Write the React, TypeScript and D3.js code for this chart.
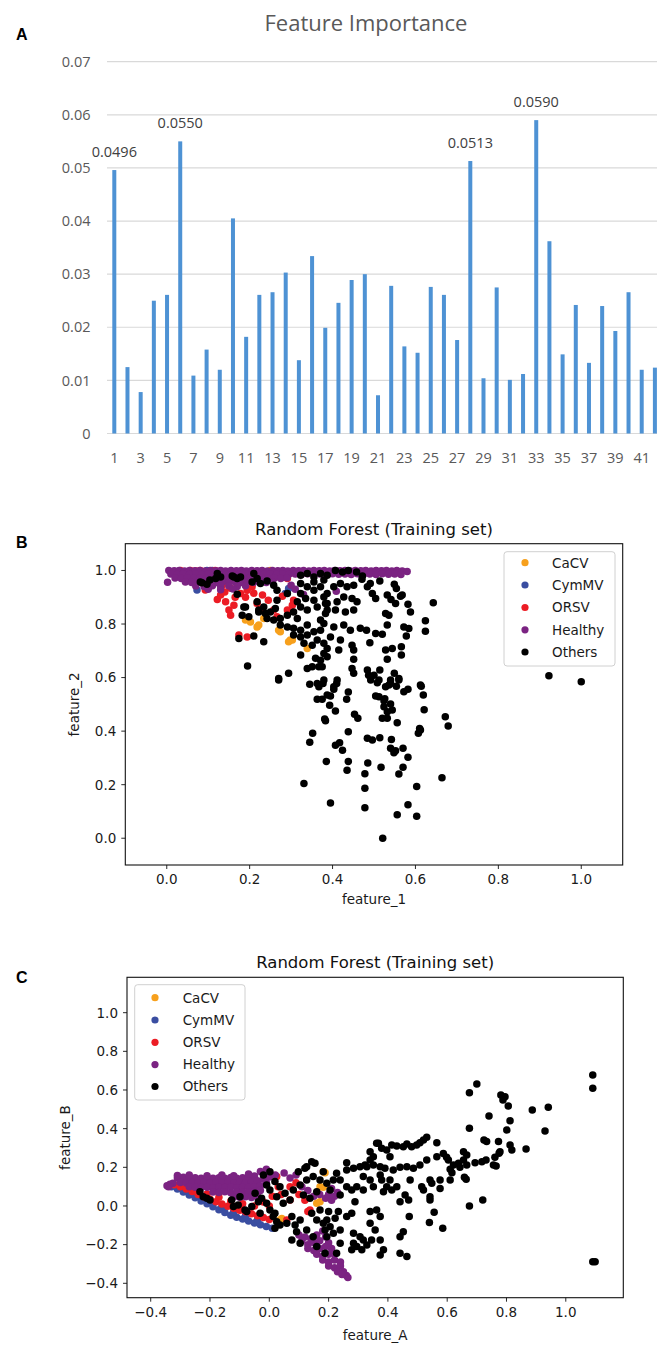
import React from 'react';
import * as d3 from 'd3';

// ---- Panel A: feature importance ----
const featureIds = [1, 2, 3, 4, 5, 6, 7, 8, 9, 10, 11, 12, 13, 14, 15, 16, 17, 18, 19, 20, 21,
  22, 23, 24, 25, 26, 27, 28, 29, 30, 31, 32, 33, 34, 35, 36, 37, 38, 39, 40, 41, 42];
const importance = [0.0496, 0.0125, 0.0078, 0.0250, 0.0261, 0.0550, 0.0109, 0.0158, 0.0120, 0.0405,
  0.0182, 0.0261, 0.0266, 0.0303, 0.0138, 0.0334, 0.0199, 0.0246, 0.0289, 0.0300,
  0.0072, 0.0278, 0.0164, 0.0152, 0.0276, 0.0261, 0.0176, 0.0513, 0.0104, 0.0275,
  0.0101, 0.0112, 0.0590, 0.0362, 0.0149, 0.0242, 0.0133, 0.0240, 0.0193, 0.0266,
  0.0120, 0.0124];
const labelledIds = [1, 6, 28, 33];
const importanceTicks = [0, 0.01, 0.02, 0.03, 0.04, 0.05, 0.06, 0.07];
const featureTickIds = [1, 3, 5, 7, 9, 11, 13, 15, 17, 19, 21, 23, 25, 27, 29, 31, 33, 35, 37, 39, 41];

// ---- classes ----
const classNames = ['CaCV', 'CymMV', 'ORSV', 'Healthy', 'Others'];
const classColors = ['#f7a01c', '#3a4ea1', '#ec1c24', '#7b2382', '#000000'];

// ---- Panel B: feature_1 / feature_2 ----
const bCaCV = [[0.202, 0.808], [0.222, 0.796], [0.234, 0.821], [0.270, 0.777], [0.294, 0.734], [0.303, 0.740],
  [0.339, 0.709], [0.310, 0.989], [0.190, 0.815], [0.218, 0.789], [0.274, 0.771], [0.298, 0.740], [0.250, 1.0], [0.29, 0.995]];
const bCymMV = [[0.073, 0.927], [0.097, 1.0], [0.110, 1.0], [0.234, 0.989], [0.250, 0.982], [0.286, 0.914],
  [0.294, 0.933], [0.283, 0.975], [0.105, 0.998], [0.12, 0.995]];
const bORSV = [[0.033, 1.0], [0.057, 1.0], [0.081, 1.0], [0.117, 1.0], [0.178, 0.982], [0.198, 0.989], [0.122, 0.892],
  [0.142, 0.883], [0.150, 0.852], [0.154, 0.833], [0.162, 0.870], [0.178, 0.914], [0.194, 0.926], [0.206, 0.939],
  [0.218, 0.877], [0.226, 0.852], [0.258, 0.852], [0.266, 0.827], [0.291, 0.852], [0.303, 0.870], [0.306, 0.889],
  [0.174, 0.759], [0.194, 0.752], [0.130, 0.908], [0.154, 0.934], [0.093, 0.927], [0.134, 0.945], [0.231, 0.908],
  [0.245, 0.889], [0.279, 0.904], [0.291, 0.970], [0.045, 0.995], [0.07, 0.998], [0.14, 0.92], [0.165, 0.90],
  [0.19, 0.90], [0.21, 0.915]];
const bHealthy = [
  [0.005, 1.0], [0.018, 0.999], [0.03, 1.0], [0.043, 0.998], [0.055, 1.0], [0.068, 0.999], [0.08, 1.0], [0.093, 0.998],
  [0.105, 1.0], [0.118, 0.999], [0.13, 1.0], [0.142, 0.998], [0.155, 1.0], [0.168, 0.999], [0.18, 1.0], [0.192, 0.998],
  [0.205, 1.0], [0.218, 0.999], [0.23, 1.0], [0.243, 0.998], [0.255, 1.0], [0.268, 0.999], [0.28, 1.0], [0.292, 0.998],
  [0.305, 1.0], [0.318, 0.999], [0.33, 1.0], [0.343, 0.998], [0.355, 1.0], [0.368, 0.999], [0.38, 1.0], [0.393, 0.998],
  [0.405, 1.0], [0.418, 0.999], [0.43, 1.0], [0.443, 0.998], [0.455, 1.0], [0.468, 0.999], [0.48, 1.0], [0.493, 0.998],
  [0.505, 1.0], [0.518, 0.999], [0.53, 1.0], [0.543, 0.998], [0.555, 1.0], [0.568, 0.998], [0.58, 0.996],
  [0.01, 0.987], [0.025, 0.985], [0.04, 0.988], [0.055, 0.986], [0.07, 0.987], [0.085, 0.985], [0.1, 0.988],
  [0.115, 0.986], [0.13, 0.987], [0.145, 0.985], [0.16, 0.988], [0.175, 0.986], [0.19, 0.987], [0.205, 0.985],
  [0.22, 0.988], [0.235, 0.986], [0.25, 0.987], [0.265, 0.985], [0.28, 0.988], [0.295, 0.986], [0.31, 0.987],
  [0.325, 0.985], [0.34, 0.988], [0.355, 0.986], [0.37, 0.987], [0.385, 0.985], [0.40, 0.988], [0.415, 0.986],
  [0.43, 0.987], [0.445, 0.985], [0.46, 0.988], [0.475, 0.986], [0.49, 0.987], [0.505, 0.985], [0.52, 0.988],
  [0.535, 0.986], [0.55, 0.987], [0.565, 0.985],
  [0.02, 0.972], [0.035, 0.970], [0.05, 0.973], [0.065, 0.971], [0.08, 0.972], [0.095, 0.970], [0.11, 0.973],
  [0.125, 0.971], [0.14, 0.972], [0.155, 0.970], [0.17, 0.973], [0.185, 0.971], [0.2, 0.972], [0.215, 0.970],
  [0.23, 0.973], [0.245, 0.971], [0.26, 0.972], [0.275, 0.970], [0.29, 0.973],
  [0.045, 0.957], [0.06, 0.955], [0.075, 0.958], [0.09, 0.956], [0.105, 0.957], [0.12, 0.955], [0.135, 0.958],
  [0.15, 0.956], [0.165, 0.957], [0.18, 0.955], [0.195, 0.958], [0.21, 0.956], [0.225, 0.957], [0.24, 0.955], [0.255, 0.958],
  [0.07, 0.942], [0.09, 0.940], [0.11, 0.943], [0.13, 0.941], [0.15, 0.942], [0.17, 0.940], [0.19, 0.943],
  [0.10, 0.930], [0.13, 0.928], [0.16, 0.931],
  [0.002, 0.956], [0.409, 0.922], [0.31, 0.93], [0.33, 0.91], [0.30, 0.945]];
const bOthers = [
  [0.270, 0.591], [0.345, 0.575], [0.367, 0.566], [0.377, 0.578], [0.410, 0.578], [0.403, 0.556], [0.387, 0.535], [0.395, 0.531],
  [0.363, 0.519], [0.375, 0.519], [0.393, 0.497], [0.438, 0.546], [0.434, 0.519], [0.407, 0.475], [0.381, 0.445], [0.383, 0.439],
  [0.453, 0.463], [0.461, 0.448], [0.352, 0.392], [0.345, 0.358], [0.438, 0.398], [0.407, 0.347], [0.417, 0.357], [0.424, 0.329],
  [0.385, 0.287], [0.438, 0.287], [0.435, 0.254], [0.331, 0.204], [0.395, 0.132], [0.484, 0.373], [0.496, 0.367], [0.514, 0.375],
  [0.485, 0.281], [0.478, 0.241], [0.478, 0.187], [0.478, 0.114], [0.517, 0.265], [0.521, 0.000], [0.492, 0.591], [0.508, 0.581],
  [0.528, 0.566], [0.540, 0.578], [0.554, 0.568], [0.560, 0.591], [0.504, 0.531], [0.512, 0.528], [0.524, 0.513], [0.540, 0.501],
  [0.544, 0.479], [0.524, 0.491], [0.532, 0.472], [0.520, 0.448], [0.532, 0.448], [0.556, 0.431], [0.572, 0.547], [0.582, 0.556],
  [0.614, 0.568], [0.619, 0.535], [0.621, 0.480], [0.610, 0.410], [0.607, 0.392], [0.612, 0.404], [0.672, 0.454], [0.679, 0.419],
  [0.542, 0.369], [0.540, 0.336], [0.548, 0.319], [0.552, 0.327], [0.570, 0.336], [0.582, 0.302], [0.570, 0.265], [0.560, 0.240],
  [0.664, 0.226], [0.603, 0.193], [0.582, 0.125], [0.556, 0.088], [0.603, 0.082], [0.922, 0.607], [1.000, 0.584],
  [0.471, 0.967], [0.491, 0.951], [0.484, 0.939], [0.514, 0.961], [0.549, 0.949], [0.554, 0.933], [0.568, 0.908], [0.564, 0.904],
  [0.496, 0.914], [0.504, 0.895], [0.532, 0.908], [0.541, 0.892], [0.552, 0.877], [0.582, 0.874], [0.588, 0.845], [0.643, 0.879],
  [0.528, 0.839], [0.536, 0.833], [0.624, 0.812], [0.624, 0.773], [0.572, 0.789], [0.584, 0.783], [0.578, 0.755], [0.532, 0.796],
  [0.467, 0.784], [0.482, 0.777], [0.504, 0.765], [0.520, 0.762], [0.490, 0.730], [0.544, 0.709], [0.528, 0.703], [0.532, 0.668],
  [0.566, 0.684], [0.451, 0.703], [0.451, 0.668], [0.484, 0.628], [0.500, 0.609], [0.514, 0.628], [0.447, 0.634], [0.451, 0.616],
  [0.540, 0.591], [0.560, 0.597], [0.612, 0.572], [0.379, 0.964], [0.371, 0.939], [0.387, 0.914], [0.403, 0.939], [0.419, 0.951],
  [0.435, 0.939], [0.451, 0.945], [0.387, 0.877], [0.411, 0.883], [0.427, 0.901], [0.447, 0.895], [0.459, 0.883], [0.383, 0.839],
  [0.407, 0.852], [0.431, 0.845], [0.451, 0.852], [0.379, 0.802], [0.403, 0.789], [0.427, 0.796], [0.443, 0.777], [0.395, 0.752],
  [0.419, 0.740], [0.447, 0.721], [0.387, 0.709], [0.415, 0.703], [0.387, 0.678], [0.371, 0.665], [0.375, 0.640], [0.411, 0.591],
  [0.403, 0.566], [0.122, 0.989], [0.118, 0.970], [0.085, 0.954], [0.097, 0.949], [0.104, 0.964], [0.158, 0.979], [0.170, 0.970],
  [0.178, 0.976], [0.170, 0.911], [0.210, 0.989], [0.218, 0.970], [0.206, 0.957], [0.226, 0.951], [0.242, 0.961], [0.258, 0.945],
  [0.266, 0.926], [0.218, 0.883], [0.234, 0.864], [0.222, 0.845], [0.238, 0.839], [0.250, 0.845], [0.262, 0.858], [0.190, 0.864],
  [0.182, 0.833], [0.242, 0.821], [0.258, 0.815], [0.274, 0.821], [0.291, 0.833], [0.306, 0.845], [0.315, 0.821], [0.274, 0.796],
  [0.291, 0.789], [0.306, 0.784], [0.323, 0.777], [0.339, 0.796], [0.323, 0.982], [0.339, 0.989], [0.355, 0.976], [0.371, 0.989],
  [0.387, 0.982], [0.323, 0.951], [0.339, 0.939], [0.355, 0.957], [0.335, 0.895], [0.355, 0.889], [0.379, 0.901], [0.383, 0.877],
  [0.363, 0.864], [0.339, 0.852], [0.323, 0.864], [0.315, 0.883], [0.306, 0.759], [0.323, 0.752], [0.339, 0.759], [0.355, 0.771],
  [0.371, 0.777], [0.331, 0.728], [0.351, 0.721], [0.363, 0.740], [0.379, 0.728], [0.174, 0.746], [0.210, 0.755], [0.234, 0.734],
  [0.195, 0.643], [0.270, 0.597], [0.294, 0.616], [0.323, 0.684], [0.359, 0.672], [0.379, 0.690], [0.339, 0.634], [0.351, 0.640],
  [0.367, 0.640], [0.363, 0.578], [0.379, 0.591], [0.081, 0.957], [0.130, 0.976], [0.162, 0.976], [0.186, 0.864], [0.198, 0.827],
  [0.222, 0.852], [0.407, 1.0], [0.424, 0.994], [0.438, 1.0], [0.458, 0.994], [0.472, 0.979], [0.512, 0.591], [0.487, 0.609],
  [0.536, 0.572], [0.526, 0.521], [0.549, 0.616], [0.566, 0.715],
  [0.291, 0.914], [0.266, 0.889], [0.323, 0.914], [0.355, 0.926], [0.371, 0.815], [0.387, 0.852]];

// ---- Panel C: feature_A / feature_B ----
const cCaCV = [[0.036, -0.072], [0.042, -0.065], [0.160, 0.014], [0.171, 0.100], [0.182, 0.177], [0.188, 0.172],
  [0.182, 0.097], [0.171, 0.022]];
const cCymMV = [[-0.33, 0.10], [-0.31, 0.088], [-0.29, 0.072], [-0.27, 0.057], [-0.25, 0.042], [-0.23, 0.026], [-0.21, 0.011],
  [-0.19, -0.004], [-0.17, -0.019], [-0.15, -0.034], [-0.13, -0.048], [-0.11, -0.058], [-0.09, -0.068], [-0.07, -0.078],
  [-0.05, -0.088], [-0.03, -0.097], [-0.01, -0.106], [0.01, -0.115], [-0.28, 0.075], [-0.24, 0.05], [-0.20, 0.022],
  [-0.16, -0.005], [-0.12, -0.03], [-0.08, -0.05], [-0.04, -0.07]];
const cORSV = [[-0.32, 0.11], [-0.30, 0.1], [-0.28, 0.088], [-0.26, 0.075], [-0.24, 0.06], [-0.22, 0.048], [-0.20, 0.035],
  [-0.18, 0.022], [-0.16, 0.01], [-0.14, -0.002], [-0.12, -0.012], [-0.10, -0.022], [-0.08, -0.03], [-0.06, -0.04],
  [-0.04, -0.05], [-0.02, -0.06], [0.0, -0.07], [-0.25, 0.08], [-0.21, 0.062], [-0.17, 0.045], [-0.13, 0.025],
  [-0.09, 0.012], [-0.05, 0.0], [-0.02, 0.02], [0.0, 0.0], [0.025, 0.152], [0.07, 0.10], [0.07, 0.031], [0.137, -0.021],
  [0.13, -0.029], [0.059, -0.072], [0.10, 0.06], [0.12, 0.03], [0.04, 0.06], [0.03, 0.10], [0.01, 0.05], [0.09, 0.12]];
const cHealthy = [
  [-0.31, 0.145], [-0.29, 0.148], [-0.27, 0.143], [-0.25, 0.146], [-0.23, 0.144], [-0.21, 0.147], [-0.19, 0.143],
  [-0.17, 0.146], [-0.15, 0.144], [-0.13, 0.147], [-0.11, 0.143], [-0.09, 0.146], [-0.07, 0.15], [-0.05, 0.155],
  [-0.325, 0.118], [-0.30, 0.121], [-0.28, 0.119], [-0.26, 0.122], [-0.24, 0.12], [-0.22, 0.123], [-0.20, 0.119],
  [-0.18, 0.122], [-0.16, 0.12], [-0.14, 0.123], [-0.12, 0.119], [-0.10, 0.122], [-0.08, 0.12], [-0.06, 0.124],
  [-0.04, 0.13], [-0.02, 0.14],
  [-0.27, 0.1], [-0.25, 0.097], [-0.23, 0.095], [-0.21, 0.097], [-0.19, 0.094], [-0.17, 0.097], [-0.15, 0.095],
  [-0.13, 0.098], [-0.11, 0.094], [-0.09, 0.097], [-0.07, 0.095], [-0.05, 0.1], [-0.03, 0.105], [-0.01, 0.12],
  [-0.19, 0.072], [-0.17, 0.07], [-0.15, 0.073], [-0.13, 0.069], [-0.11, 0.072], [-0.09, 0.07], [-0.07, 0.073],
  [-0.05, 0.075], [-0.03, 0.08], [-0.12, 0.047], [-0.10, 0.045], [-0.08, 0.048], [-0.06, 0.044], [-0.04, 0.05],
  [-0.345, 0.105], [-0.335, 0.112], [-0.34, 0.1],
  [-0.31, 0.158], [-0.27, 0.16], [-0.21, 0.157], [-0.16, 0.16], [-0.12, 0.156], [-0.07, 0.165], [-0.03, 0.178], [-0.01, 0.19],
  [0.0, 0.15], [0.02, 0.16], [0.05, 0.17], [0.07, 0.145], [0.09, 0.16], [0.11, 0.1], [0.13, 0.08], [0.15, 0.05], [0.17, 0.06],
  [0.19, 0.04], [0.21, 0.03], [0.23, 0.07], [0.21, 0.09], [0.2, 0.06], [0.22, 0.05],
  [0.10, -0.15], [0.12, -0.16], [0.14, -0.17], [0.16, -0.15], [0.18, -0.13], [0.19, -0.16],
  [0.11, -0.18], [0.13, -0.20], [0.15, -0.19], [0.17, -0.18], [0.20, -0.19],
  [0.13, -0.22], [0.15, -0.23], [0.17, -0.22], [0.19, -0.21], [0.21, -0.22],
  [0.16, -0.25], [0.18, -0.26], [0.20, -0.25], [0.22, -0.25], [0.18, -0.28], [0.20, -0.29], [0.22, -0.28], [0.24, -0.29],
  [0.20, -0.31], [0.22, -0.32], [0.24, -0.31], [0.23, -0.34], [0.25, -0.34], [0.26, -0.36], [0.265, -0.37], [0.245, -0.355]];
const cOthers = [
  [0.700, 0.631], [0.675, 0.586], [0.781, 0.574], [0.795, 0.565], [0.788, 0.548], [0.806, 0.517], [0.741, 0.466], [0.812, 0.441],
  [0.675, 0.402], [0.801, 0.393], [0.724, 0.341], [0.733, 0.333], [0.773, 0.333], [0.812, 0.316], [0.818, 0.290], [0.778, 0.281],
  [0.761, 0.252], [0.731, 0.238], [0.717, 0.229], [0.694, 0.224], [0.756, 0.212], [0.765, 0.207], [0.675, 0.000], [0.720, 0.031],
  [0.655, 0.281], [0.666, 0.264], [0.655, 0.238], [0.638, 0.221], [0.643, 0.200], [0.666, 0.212], [0.658, 0.148], [0.664, 0.138],
  [0.621, 0.212], [0.610, 0.190], [0.616, 0.172], [0.587, 0.272], [0.598, 0.252], [0.604, 0.238], [0.565, 0.327], [0.531, 0.355],
  [0.520, 0.341], [0.508, 0.327], [0.497, 0.316], [0.480, 0.307], [0.464, 0.321], [0.452, 0.307], [0.430, 0.310], [0.413, 0.316],
  [0.396, 0.290], [0.379, 0.298], [0.368, 0.324], [0.565, 0.255], [0.531, 0.238], [0.508, 0.212], [0.486, 0.195], [0.464, 0.203],
  [0.441, 0.200], [0.418, 0.186], [0.390, 0.195], [0.374, 0.203], [0.351, 0.212], [0.340, 0.238], [0.329, 0.203], [0.542, 0.134],
  [0.514, 0.100], [0.548, 0.117], [0.520, 0.083], [0.542, 0.048], [0.542, 0.031], [0.556, -0.033], [0.540, -0.086], [0.585, -0.115],
  [0.576, 0.134], [0.610, 0.134], [0.576, 0.091], [0.472, -0.055], [0.452, -0.133], [0.441, -0.159], [0.441, -0.245], [0.464, -0.262],
  [0.458, 0.057], [0.470, 0.031], [0.441, 0.022], [0.407, 0.134], [0.430, 0.100], [0.413, 0.083], [0.396, 0.100], [0.385, 0.074],
  [0.374, 0.160], [0.379, 0.134], [0.340, 0.134], [0.317, 0.152], [0.351, 0.100], [0.317, 0.083], [0.295, 0.100], [0.278, 0.083],
  [0.261, 0.100], [0.239, 0.134], [0.227, 0.169], [0.261, 0.186], [0.284, 0.195], [0.306, 0.203], [0.323, 0.212], [0.216, 0.134],
  [0.205, 0.083], [0.194, 0.117], [0.171, 0.134], [0.261, 0.224], [0.362, 0.324], [0.340, 0.281], [0.351, 0.255], [0.407, 0.255],
  [0.475, 0.134], [0.289, 0.022], [0.239, 0.057], [0.200, -0.029], [0.233, -0.029], [0.222, -0.064], [0.205, -0.107], [0.239, -0.124],
  [0.261, -0.055], [0.278, -0.038], [0.340, -0.029], [0.362, -0.021], [0.374, -0.055], [0.340, -0.090], [0.357, -0.124], [0.284, -0.141],
  [0.306, -0.159], [0.317, -0.176], [0.284, -0.193], [0.295, -0.210], [0.278, -0.227], [0.312, -0.227], [0.329, -0.202], [0.345, -0.176],
  [0.374, -0.176], [0.385, -0.227], [0.374, -0.253], [0.216, -0.141], [0.239, -0.193], [0.194, -0.159], [0.227, -0.245], [0.182, -0.090],
  [0.188, -0.124], [1.091, 0.677], [1.091, 0.609], [1.091, -0.288], [1.099, -0.288], [0.941, 0.511], [0.930, 0.388], [0.887, 0.497],
  [0.866, 0.295], [0.775, 0.273],
  [-0.234, 0.074], [-0.211, 0.040], [-0.200, 0.031], [-0.223, 0.048], [-0.127, 0.031], [-0.099, 0.048], [-0.105, 0.005], [-0.082, -0.021],
  [-0.059, -0.003], [-0.037, 0.022], [-0.048, 0.066], [-0.026, 0.040], [-0.009, 0.014], [-0.031, -0.038], [0.002, -0.021], [0.019, -0.038],
  [-0.009, 0.109], [0.002, 0.083], [0.019, 0.126], [0.036, 0.100], [0.053, 0.066], [0.070, 0.031], [0.025, 0.048], [0.047, 0.014],
  [-0.020, 0.160], [0.002, 0.177], [0.081, 0.083], [0.104, 0.109], [0.126, 0.134], [0.148, 0.152], [0.115, 0.057], [0.137, 0.040],
  [0.160, 0.074], [0.098, 0.177], [0.120, 0.195], [0.154, 0.221], [0.182, 0.177], [0.013, -0.055], [0.025, -0.081], [0.019, -0.115],
  [0.036, -0.098], [0.059, -0.090], [0.076, -0.055], [0.087, -0.098], [0.104, -0.072], [0.092, -0.133], [0.076, -0.176], [0.104, -0.193],
  [0.126, -0.124], [0.148, -0.159], [0.160, -0.210], [0.188, -0.245], [0.171, -0.021], [0.194, -0.072], [0.160, -0.072], [0.143, -0.038],
  [-0.121, -0.003], [-0.076, -0.029], [0.126, 0.203], [0.143, 0.229]];

const panelBTicks = [0, 0.2, 0.4, 0.6, 0.8, 1.0];
const panelCTicks = [-0.4, -0.2, 0, 0.2, 0.4, 0.6, 0.8, 1.0];

const MPL_FONT = '"DejaVu Sans", sans-serif';
const XL_FONT = '"Open Sans", "Noto Sans", sans-serif';

function FeatureImportance() {
  const x = d3.scaleLinear().domain([1, 42]).range([114.3, 654.9]);
  const y = d3.scaleLinear().domain([0, 0.07]).range([433.5, 61.7]);
  const fmt = d3.format('.4f');
  const barW = 4;
  return (
    <g>
      <text x={16} y={40} fontFamily='"Liberation Sans", Arial' fontWeight="bold" fontSize={16}>A</text>
      <text x={366} y={30.5} textAnchor="middle" fontFamily={XL_FONT} fontSize={22} fill="#595959">Feature Importance</text>
      {importanceTicks.map((t) => (
        <g key={t}>
          <line x1={107} x2={662} y1={y(t)} y2={y(t)} stroke="#d9d9d9" strokeWidth={1.2} />
          <text x={90.5} y={y(t)} dy="0.36em" textAnchor="end" fontFamily={XL_FONT} fontSize={14.5} fill="#595959">
            {t === 0 ? '0' : d3.format('.2f')(t)}
          </text>
        </g>
      ))}
      {featureIds.map((id, i) => (
        <rect key={id} x={x(id) - barW / 2} y={y(importance[i])} width={barW}
          height={y(0) - y(importance[i])} fill="#4e92d4" />
      ))}
      {featureTickIds.map((id) => (
        <text key={id} x={x(id)} y={463} textAnchor="middle" fontFamily={XL_FONT} fontSize={14.5} fill="#595959">{id}</text>
      ))}
      {labelledIds.map((id) => (
        <text key={id} x={x(id)} y={y(importance[id - 1]) - 13.5} textAnchor="middle"
          fontFamily={XL_FONT} fontSize={14.5} fill="#404040">{fmt(importance[id - 1])}</text>
      ))}
    </g>
  );
}

type Pt = number[];

interface ScatterProps {
  letter: string;
  letterY: number;
  box: { left: number; top: number; right: number; bottom: number };
  xDomain: [number, number];
  yDomain: [number, number];
  xTicks: number[];
  yTicks: number[];
  xLabel: string;
  xLabelDy: number;
  yLabel: string;
  yLabelX: number;
  titleY: number;
  series: Pt[][];
  legend: { left: number; top: number; right: number; bottom: number; markerX: number; textX: number; rowY: number[] };
}

function ScatterPanel(p: ScatterProps) {
  const { box, legend } = p;
  const x = d3.scaleLinear().domain(p.xDomain).range([box.left, box.right]);
  const y = d3.scaleLinear().domain(p.yDomain).range([box.bottom, box.top]);
  const fmt = d3.format('.1f');
  const cx = (box.left + box.right) / 2;
  const cy = (box.top + box.bottom) / 2;
  const clipId = 'clip' + p.letter;
  return (
    <g fontFamily={MPL_FONT}>
      <text x={16} y={p.letterY} fontFamily='"Liberation Sans", Arial' fontWeight="bold" fontSize={16}>{p.letter}</text>
      <text x={cx} y={p.titleY} textAnchor="middle" fontSize={16.5} fill="#111">Random Forest (Training set)</text>
      <defs>
        <clipPath id={clipId}>
          <rect x={box.left} y={box.top} width={box.right - box.left} height={box.bottom - box.top} />
        </clipPath>
      </defs>
      <g clipPath={`url(#${clipId})`}>
        {p.series.map((pts, si) => (
          <g key={si} fill={classColors[si]}>
            {pts.map((d, i) => (
              <circle key={i} cx={x(d[0])} cy={y(d[1])} r={3.75} />
            ))}
          </g>
        ))}
      </g>
      <rect x={box.left} y={box.top} width={box.right - box.left} height={box.bottom - box.top}
        fill="none" stroke="#111" strokeWidth={1.1} />
      {p.xTicks.map((t) => (
        <g key={'x' + t}>
          <line x1={x(t)} x2={x(t)} y1={box.bottom} y2={box.bottom + 4} stroke="#111" strokeWidth={0.9} />
          <text x={x(t)} y={box.bottom + 19} textAnchor="middle" fontSize={13.5} fill="#1a1a1a">{fmt(t)}</text>
        </g>
      ))}
      {p.yTicks.map((t) => (
        <g key={'y' + t}>
          <line x1={box.left - 4} x2={box.left} y1={y(t)} y2={y(t)} stroke="#111" strokeWidth={0.9} />
          <text x={box.left - 9} y={y(t)} dy="0.36em" textAnchor="end" fontSize={13.5} fill="#1a1a1a">{fmt(t)}</text>
        </g>
      ))}
      <text x={cx} y={box.bottom + p.xLabelDy} textAnchor="middle" fontSize={13.5} fill="#1a1a1a">{p.xLabel}</text>
      <text transform={`translate(${p.yLabelX},${cy}) rotate(-90)`} textAnchor="middle" fontSize={13.5} fill="#1a1a1a">{p.yLabel}</text>
      <rect x={legend.left} y={legend.top} width={legend.right - legend.left} height={legend.bottom - legend.top}
        rx={3} fill="#fff" fillOpacity={0.8} stroke="#d0d0d0" strokeWidth={1} />
      {classNames.map((name, i) => (
        <g key={name}>
          <circle cx={legend.markerX} cy={legend.rowY[i]} r={3.6} fill={classColors[i]} />
          <text x={legend.textX} y={legend.rowY[i]} dy="0.36em" fontSize={13.5} fill="#1a1a1a">{name}</text>
        </g>
      ))}
    </g>
  );
}

export default function App() {
  return (
    <div style={{ position: 'absolute', left: 0, top: 0 }}>
      <svg width={657} height={1346} style={{ display: 'block', background: '#fff' }}>
        <FeatureImportance />
        <ScatterPanel
          letter="B" letterY={548}
          box={{ left: 125.3, top: 543.7, right: 622.7, bottom: 865 }}
          xDomain={[-0.1, 1.1]} yDomain={[-0.1, 1.1]}
          xTicks={panelBTicks} yTicks={panelBTicks}
          xLabel="feature_1" xLabelDy={39} yLabel="feature_2" yLabelX={79} titleY={534.5}
          series={[bCaCV, bCymMV, bORSV, bHealthy, bOthers]}
          legend={{ left: 504, top: 551.7, right: 615, bottom: 666, markerX: 525, textX: 552,
            rowY: [562.7, 585, 607.5, 629.8, 652] }}
        />
        <ScatterPanel
          letter="C" letterY={982.5}
          box={{ left: 127, top: 977.3, right: 623.3, bottom: 1297.7 }}
          xDomain={[-0.48, 1.194]} yDomain={[-0.4745, 1.183]}
          xTicks={panelCTicks} yTicks={panelCTicks}
          xLabel="feature_A" xLabelDy={42} yLabel="feature_B" yLabelX={70} titleY={968}
          series={[cCaCV, cCymMV, cORSV, cHealthy, cOthers]}
          legend={{ left: 134.7, top: 984.7, right: 245, bottom: 1100, markerX: 155, textX: 182.7,
            rowY: [997.7, 1020, 1042.3, 1064.6, 1086.5] }}
        />
      </svg>
    </div>
  );
}
